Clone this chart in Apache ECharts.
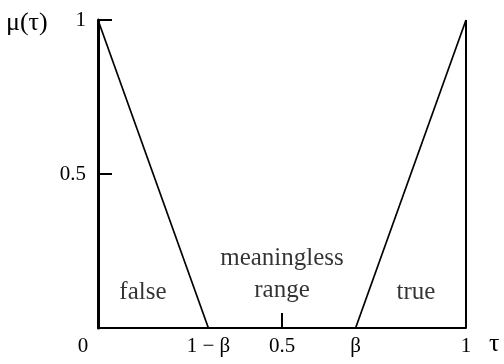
<!DOCTYPE html>
<html>
<head>
<meta charset="utf-8">
<script src="https://cdn.jsdelivr.net/npm/echarts@6/dist/echarts.min.js"></script>
<style>
  html, body { margin: 0; padding: 0; background: #fff; }
  #chart { width: 504px; height: 364px; }
</style>
</head>
<body>
<div id="chart"></div>
<script>
// beta (1-beta ~ 0.3)
const beta = 0.7

const xTickValues = [0, 1 - beta, 0.5, beta, 1]
const xTickLabels = ['0', '1 \u2212 \u03b2', '0.5', '\u03b2', '1']
const yTickValues = [0.5, 1]
const yTickLabels = ['0.5', '1']

const falseLine = [[0, 1], [1 - beta, 0]]
const trueLine = [[beta, 0], [1, 1]]
const rightEdge = [[1, 0], [1, 1]]

const regionNames = ['false', 'meaningless', 'range', 'true']
const regionPos = [[0.122, 0.114], [0.5, 0.227], [0.5, 0.122], [0.864, 0.114]]

const font = 'Liberation Serif'

const chart = echarts.init(document.getElementById('chart'))

const fmtX = (v) => {
  const i = xTickValues.findIndex((t) => Math.abs(t - v) < 1e-6)
  if (i < 0) return ''
  return i === 0 ? '{z|' + xTickLabels[i] + '}' : xTickLabels[i]
}
const fmtY = (v) => {
  const i = yTickValues.findIndex((t) => Math.abs(t - v) < 1e-6)
  return i < 0 ? '' : yTickLabels[i]
}

chart.setOption({
  animation: false,
  backgroundColor: '#fff',
  grid: { left: 98, right: 38, top: 20, bottom: 36 },
  xAxis: {
    type: 'value',
    min: 0,
    max: 1,
    splitLine: { show: false },
    axisLine: { lineStyle: { color: '#000', width: 2 } },
    axisTick: {
      customValues: [0.5],
      inside: true,
      length: 15,
      lineStyle: { color: '#000', width: 2 },
    },
    axisLabel: {
      customValues: xTickValues,
      formatter: fmtX,
      margin: 8,
      color: '#000',
      fontFamily: font,
      fontSize: 21,
      rich: { z: { fontFamily: font, fontSize: 21, color: '#000', padding: [0, 30, 0, 0] } },
    },
  },
  yAxis: {
    type: 'value',
    min: 0,
    max: 1,
    splitLine: { show: false },
    axisLine: { lineStyle: { color: '#000', width: 3 } },
    axisTick: {
      customValues: yTickValues,
      inside: true,
      length: 14,
      lineStyle: { color: '#000', width: 2 },
    },
    axisLabel: {
      customValues: yTickValues,
      formatter: fmtY,
      margin: 12,
      color: '#000',
      fontFamily: font,
      fontSize: 21,
    },
  },
  graphic: [
    { type: 'text', left: 6, top: 10, style: { text: '\u03bc(\u03c4)', font: '26px "Liberation Serif"', fill: '#000' } },
    { type: 'text', left: 489, top: 331, style: { text: '\u03c4', font: '26px "Liberation Serif"', fill: '#000' } },
  ],
  series: [
    {
      name: 'false',
      type: 'line',
      data: falseLine,
      symbol: 'none',
      lineStyle: { color: '#000', width: 1.7 },
    },
    {
      name: 'true',
      type: 'line',
      data: trueLine,
      symbol: 'none',
      lineStyle: { color: '#000', width: 1.7 },
    },
    {
      name: 'edge',
      type: 'line',
      data: rightEdge,
      symbol: 'none',
      lineStyle: { color: '#000', width: 2 },
    },
    {
      name: 'regions',
      type: 'scatter',
      symbolSize: 0,
      data: regionPos.map((p, i) => ({ value: p, name: regionNames[i] })),
      label: {
        show: true,
        position: 'inside',
        formatter: '{b}',
        color: '#000',
        fontFamily: font,
        fontSize: 25,
      },
    },
  ],
})
</script>
</body>
</html>
